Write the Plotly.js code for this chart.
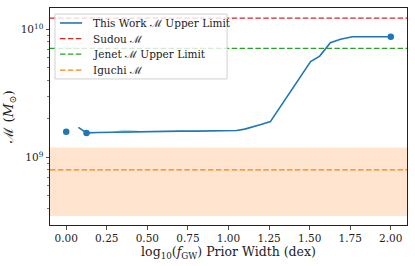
<!DOCTYPE html>
<html><head><meta charset="utf-8">
<script src="https://cdn.plot.ly/plotly-3.0.1.min.js"></script>
<style>html,body{margin:0;padding:0;background:#fff}#c{width:415px;height:266px}</style>
</head><body><div id="c"></div>
<script>
const xRange = [-0.1, 2.1];
const yLogRange = [8.471, 10.166];
const workX = [0.075, 0.1, 0.125, 0.2, 0.3, 0.4, 0.5, 0.6, 0.7, 0.8, 0.9, 1.0, 1.05, 1.1, 1.15, 1.2, 1.258, 1.506, 1.562, 1.628, 1.69, 1.763, 2.0];
const workY = [1.71e9, 1.62e9, 1.55e9, 1.56e9, 1.57e9, 1.59e9, 1.59e9, 1.6e9, 1.6e9, 1.6e9, 1.6e9, 1.61e9, 1.62e9, 1.66e9, 1.72e9, 1.8e9, 1.9e9, 5.59e9, 6.17e9, 7.85e9, 8.36e9, 8.75e9, 8.75e9];
const bandX = [0.3, 0.35, 0.4, 0.47];
const bandLo = [1.55e9, 1.55e9, 1.56e9, 1.57e9];
const bandHi = [1.6e9, 1.64e9, 1.63e9, 1.6e9];
const dotX = [0.0, 0.125, 2.0];
const dotY = [1.585e9, 1.55e9, 8.75e9];
const sudouM = 1.22e10;
const jenetM = 7.1e9;
const iguchiM = 7.96e8;
const iguchiLo = 3.47e8;
const iguchiHi = 1.19e9;
const xTicks = [0, 0.25, 0.5, 0.75, 1.0, 1.25, 1.5, 1.75, 2.0];
const xTickText = ['0.00','0.25','0.50','0.75','1.00','1.25','1.50','1.75','2.00'];
const yTicks = [1e9, 1e10];
const yTickText = ['10<sup>9</sup>', '10<sup>10</sup>'];
const yMinor = [4e8,5e8,6e8,7e8,8e8,9e8,2e9,3e9,4e9,5e9,6e9,7e9,8e9,9e9];
const legendNames = ['This Work ℳ Upper Limit', 'Sudou ℳ', 'Jenet ℳ Upper Limit', 'Iguchi ℳ'];
const legendColors = ['#1f77b4', '#d62728', '#2ca02c', '#ff7f0e'];
const legendDash = ['solid', '5.5px,2.4px', '5.5px,2.4px', '5.5px,2.4px'];

const font = '"DejaVu Serif", serif';
const dash = '5.5px,2.4px';
const traces = [
  {x: xRange, y: [iguchiLo, iguchiLo], mode: 'lines', line: {width: 0}, showlegend: false, hoverinfo: 'skip'},
  {x: xRange, y: [iguchiHi, iguchiHi], mode: 'lines', line: {width: 0}, fill: 'tonexty', fillcolor: 'rgba(255,127,14,0.2)', showlegend: false, hoverinfo: 'skip'},
  {x: bandX, y: bandLo, mode: 'lines', line: {width: 0}, showlegend: false},
  {x: bandX, y: bandHi, mode: 'lines', line: {width: 0}, fill: 'tonexty', fillcolor: 'rgba(31,119,180,0.3)', showlegend: false},
  {x: workX, y: workY, mode: 'lines', name: legendNames[0], line: {color: legendColors[0], width: 1.6}, showlegend: false},
  {x: xRange, y: [sudouM, sudouM], mode: 'lines', name: legendNames[1], line: {color: legendColors[1], width: 1.3, dash: dash}, showlegend: false},
  {x: xRange, y: [jenetM, jenetM], mode: 'lines', name: legendNames[2], line: {color: legendColors[2], width: 1.3, dash: dash}, showlegend: false},
  {x: xRange, y: [iguchiM, iguchiM], mode: 'lines', name: legendNames[3], line: {color: legendColors[3], width: 1.3, dash: dash}, showlegend: false},
  {x: dotX, y: dotY, mode: 'markers', marker: {color: '#1f77b4', size: 6.5}, showlegend: false}
];

// legend box drawn in paper coordinates
const legBox = {x0: 0.014, x1: 0.496, y0: 0.673, y1: 0.972};
const rowY = [0.931, 0.859, 0.787, 0.714];
const shapes = [{type: 'rect', xref: 'paper', yref: 'paper', x0: legBox.x0, x1: legBox.x1, y0: legBox.y0, y1: legBox.y1,
  fillcolor: 'rgba(255,255,255,0.8)', line: {color: '#d0d0d0', width: 1}}];
const annotations = [];
legendNames.forEach((n, i) => {
  shapes.push({type: 'line', xref: 'paper', yref: 'paper', x0: 0.028, x1: 0.090, y0: rowY[i], y1: rowY[i],
    line: {color: legendColors[i], width: i === 0 ? 1.6 : 1.3, dash: legendDash[i]}});
  annotations.push({xref: 'paper', yref: 'paper', x: 0.116, y: rowY[i], xanchor: 'left', yanchor: 'middle', showarrow: false,
    text: n, font: {family: font, size: 10.5, color: '#222'}});
});

const layout = {
  width: 415, height: 266,
  margin: {l: 50, r: 8, t: 8, b: 41},
  paper_bgcolor: '#fff', plot_bgcolor: '#fff',
  font: {family: font, size: 10.5, color: '#222'},
  showlegend: false,
  shapes: shapes, annotations: annotations,
  xaxis: {range: xRange, tickvals: xTicks, ticktext: xTickText, ticks: 'outside', ticklen: 3.5, tickwidth: 0.8, tickcolor: '#222',
    tickfont: {family: font, size: 10.5},
    showgrid: false, zeroline: false, showline: true, linecolor: '#222', linewidth: 1, mirror: true,
    title: {text: 'log<sub>10</sub>(<i>f</i><sub>GW</sub>) Prior Width (dex)', font: {family: font, size: 12.5}, standoff: 4}},
  yaxis: {type: 'log', range: yLogRange, tickvals: yTicks, ticktext: yTickText, ticks: 'outside', ticklen: 3.5, tickwidth: 0.8, tickcolor: '#222',
    tickfont: {family: font, size: 10.5},
    minor: {tickvals: yMinor, ticks: 'outside', ticklen: 2, tickwidth: 0.6, tickcolor: '#222', showgrid: false},
    showgrid: false, zeroline: false, showline: true, linecolor: '#222', linewidth: 1, mirror: true,
    title: {text: 'ℳ (<i>M</i><sub>⊙</sub>)', font: {family: font, size: 13.5}, standoff: 6}}
};
Plotly.newPlot('c', traces, layout, {staticPlot: true, displayModeBar: false});
</script></body></html>
